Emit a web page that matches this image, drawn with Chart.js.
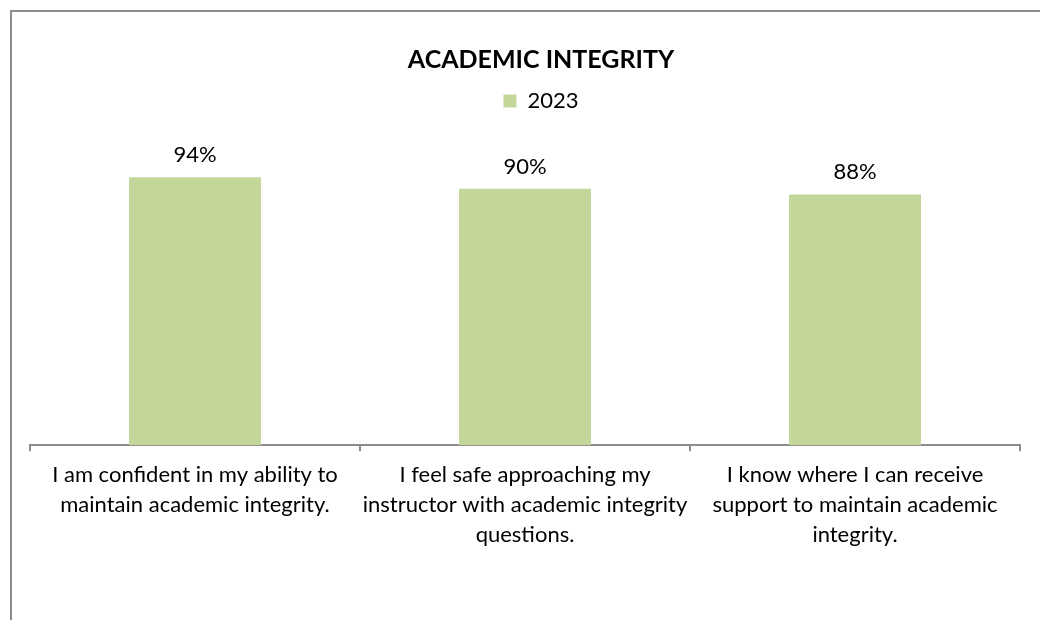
<!DOCTYPE html>
<html>
<head>
<meta charset="utf-8">
<script src="https://cdn.jsdelivr.net/npm/chart.js@4.4.0/dist/chart.umd.min.js"></script>
<style>
  html, body { margin: 0; padding: 0; background: #fff; overflow: hidden; width: 1040px; height: 620px; }
  #frame {
    position: absolute; left: 10px; top: 10px; width: 1100px; height: 700px;
    border-left: 2px solid #8c8c8c; border-top: 2px solid #8c8c8c;
  }
  /* the chart frame runs past the right edge of the picture, so the canvas does too */
  #wrap { position: absolute; left: 0; top: 0; width: 1083px; height: 620px; }
</style>
</head>
<body>
<div id="frame"></div>
<div id="wrap"><canvas id="myChart"></canvas></div>
<script>
// data
const categories = [
    ['I am confident in my ability to', 'maintain academic integrity.'],
    ['I feel safe approaching my', 'instructor with academic integrity', 'questions.'],
    ['I know where I can receive', 'support to maintain academic', 'integrity.']
];
const values2023 = [94, 90, 88];
const seriesName = '2023';
const chartTitle = 'ACADEMIC INTEGRITY';

const FONT = 'Lato, "Open Sans", sans-serif';
const barColor = '#c4d79b';

// draws the "94%" style labels above each bar
const valueLabels = {
    id: 'valueLabels',
    afterDatasetsDraw(chart) {
        const ctx = chart.ctx;
        ctx.save();
        ctx.font = '22px ' + FONT;
        ctx.fillStyle = '#000';
        ctx.textAlign = 'center';
        ctx.textBaseline = 'middle';
        chart.getDatasetMeta(0).data.forEach((bar, i) => {
            ctx.fillText(values2023[i] + '%', bar.x, bar.y - 22);
        });
        ctx.restore();
    }
};

// invisible axes used only as side margins around the plot
const hiddenAxis = (side, w) => ({
    type: 'linear', position: side, display: true,
    grid: { display: false, drawTicks: false }, border: { display: false },
    ticks: { display: false },
    afterFit(scale) { scale.width = w; }
});

const ctx = document.getElementById('myChart').getContext('2d');
new Chart(ctx, {
    type: 'bar',
    data: {
        labels: categories,
        datasets: [{
            label: seriesName,
            data: values2023,
            backgroundColor: barColor,
            barPercentage: 0.4,
            categoryPercentage: 1.0
        }]
    },
    options: {
        responsive: true, maintainAspectRatio: false,
        animation: false,
        layout: { padding: { left: 0, right: 1, top: 0, bottom: 61 } },
        plugins: {
            title: {
                display: true, text: chartTitle, color: '#000',
                font: { family: FONT, size: 25, weight: 'bold', lineHeight: 1.2 },
                padding: { top: 45, bottom: 5 }
            },
            legend: {
                display: true, position: 'top',
                labels: {
                    color: '#000', boxWidth: 13, boxHeight: 13,
                    font: { family: FONT, size: 22 }
                }
            },
            tooltip: { enabled: false }
        },
        scales: {
            y: Object.assign(hiddenAxis('left', 30), { min: 0, max: 113.4 }),
            yRight: hiddenAxis('right', 62),
            x: {
                border: { display: true, color: '#8c8c8c', width: 2 },
                grid: { offset: true, drawOnChartArea: false, drawTicks: true, tickLength: 6, color: '#8c8c8c', lineWidth: 2 },
                ticks: {
                    color: '#000', maxRotation: 0, autoSkip: false, padding: 9,
                    font: { family: FONT, size: 22, lineHeight: 1.36 }
                }
            }
        }
    },
    plugins: [valueLabels]
});
</script>
</body>
</html>
